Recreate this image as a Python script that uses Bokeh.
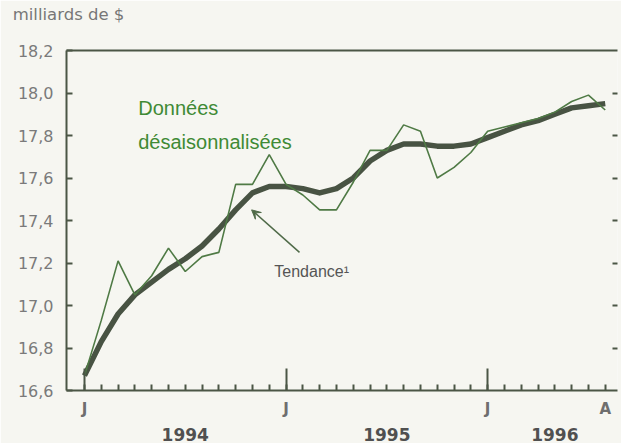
from bokeh.plotting import figure
from bokeh.models import FixedTicker, LinearAxis, Range1d, Label, Arrow, VeeHead
from bokeh.embed import file_html
from bokeh.resources import INLINE

# months since January 1994 (0 = Jan 1994 ... 31 = Aug 1996)
months = list(range(32))
raw = [16.67, 16.93, 17.21, 17.05, 17.14, 17.27, 17.16, 17.23, 17.25, 17.57,
       17.57, 17.71, 17.57, 17.52, 17.45, 17.45, 17.58, 17.73, 17.73, 17.85,
       17.82, 17.60, 17.65, 17.72, 17.82, 17.84, 17.86, 17.88, 17.91, 17.96,
       17.99, 17.92]
trend = [16.67, 16.83, 16.96, 17.05, 17.11, 17.17, 17.22, 17.28, 17.36, 17.45,
         17.53, 17.56, 17.56, 17.55, 17.53, 17.55, 17.60, 17.68, 17.73, 17.76,
         17.76, 17.75, 17.75, 17.76, 17.79, 17.82, 17.85, 17.87, 17.90, 17.93,
         17.94, 17.95]

y_ticks = [16.6, 16.8, 17.0, 17.2, 17.4, 17.6, 17.8, 18.0, 18.2]
y_labels = ["16,6", "16,8", "17,0", "17,2", "17,4", "17,6", "17,8", "18,0", "18,2"]
month_ticks = [0, 12, 24, 31]
month_labels = ["J", "J", "J", "A"]
year_ticks = [6, 18, 28]
year_labels = ["1994", "1995", "1996"]
unit_label = "milliards de $"

FONT = "Liberation Sans"
TFONT = "DejaVu Sans"
AXC = "#4b5646"
BG = "#f6f6f1"

p = figure(width=621, height=443, output_backend="svg", toolbar_location=None,
           x_range=Range1d(-1.07, 31.73), y_range=Range1d(16.6, 18.2),
           x_axis_type=None, y_axis_type=None,
           min_border_left=66, min_border_right=4, min_border_top=50, min_border_bottom=51)
p.background_fill_color = BG
p.border_fill_color = BG
p.outline_line_color = None

# top frame line carrying the unit text
ta = LinearAxis(ticker=FixedTicker(ticks=[-0.95]), major_label_overrides={-0.95: unit_label})
ta.axis_line_color = AXC
ta.axis_line_width = 2
ta.major_tick_line_color = None
ta.minor_tick_line_color = None
ta.major_tick_out = 0
ta.major_tick_in = 0
ta.major_label_text_font = TFONT
ta.major_label_text_font_size = "16.5px"
ta.major_label_text_color = "#777777"
ta.major_label_standoff = 27
p.add_layout(ta, "above")

# left axis
ya = LinearAxis(ticker=FixedTicker(ticks=y_ticks),
                major_label_overrides={t: l for t, l in zip(y_ticks, y_labels)})
ya.axis_line_color = AXC
ya.axis_line_width = 2
ya.major_tick_line_color = AXC
ya.major_tick_line_width = 2
ya.major_tick_in = 6
ya.major_tick_out = 0
ya.minor_tick_line_color = None
ya.major_label_text_font = TFONT
ya.major_label_text_font_size = "16px"
ya.major_label_text_color = "#7a7a7a"
ya.major_label_standoff = 13
p.add_layout(ya, "left")

# right ticks (no line, no labels)
ra = LinearAxis(ticker=FixedTicker(ticks=y_ticks[1:-1]))
ra.axis_line_color = None
ra.major_tick_line_color = AXC
ra.major_tick_line_width = 2
ra.major_tick_in = 5
ra.major_tick_out = 0
ra.minor_tick_line_color = None
ra.major_label_text_font_size = "1px"
ra.major_label_text_color = None
ra.major_label_standoff = 0
p.add_layout(ra, "right")

# bottom axis: line + month ticks
xa = LinearAxis(ticker=FixedTicker(ticks=[0, 12, 24], minor_ticks=months))
xa.axis_line_color = AXC
xa.axis_line_width = 2
xa.major_tick_line_color = AXC
xa.major_tick_line_width = 2
xa.major_tick_in = 22
xa.major_tick_out = 0
xa.minor_tick_line_color = AXC
xa.minor_tick_line_width = 2
xa.minor_tick_in = 6
xa.minor_tick_out = 0
xa.major_label_text_font_size = "1px"
xa.major_label_text_color = None
xa.major_label_standoff = 0
p.add_layout(xa, "below")

ma = LinearAxis(ticker=FixedTicker(ticks=month_ticks),
                major_label_overrides={t: l for t, l in zip(month_ticks, month_labels)})
ma.axis_line_color = None
ma.major_tick_line_color = None
ma.minor_tick_line_color = None
ma.major_label_text_font = TFONT
ma.major_label_text_font_size = "15px"
ma.major_label_text_font_style = "bold"
ma.major_label_text_color = "#6e6e6e"
ma.major_label_standoff = 3
p.add_layout(ma, "below")

yra = LinearAxis(ticker=FixedTicker(ticks=year_ticks),
                 major_label_overrides={t: l for t, l in zip(year_ticks, year_labels)})
yra.axis_line_color = None
yra.major_tick_line_color = None
yra.minor_tick_line_color = None
yra.major_label_text_font = TFONT
yra.major_label_text_font_size = "17px"
yra.major_label_text_font_style = "bold"
yra.major_label_text_color = "#505050"
yra.major_label_standoff = 1
p.add_layout(yra, "below")

# data
p.line(months, trend, line_color="#3e4a39", line_width=5.5, line_alpha=0.95, line_join="round")
p.line(months, raw, line_color="#4f7a45", line_width=1.6)

# annotations
p.add_layout(Label(x=3.2, y=17.93, text="Données", text_font=FONT, text_font_size="20px",
                   text_color="#3f8a35", text_baseline="middle"))
p.add_layout(Label(x=3.2, y=17.77, text="désaisonnalisées", text_font=FONT, text_font_size="20px",
                   text_color="#3f8a35", text_baseline="middle"))
p.add_layout(Label(x=11.3, y=17.16, text="Tendance¹", text_font=FONT, text_font_size="16px",
                   text_color="#555555", text_baseline="middle"))
p.add_layout(Arrow(x_start=12.8, y_start=17.25, x_end=9.95, y_end=17.45,
                   line_color="#4f6a48", line_width=1.5,
                   end=VeeHead(size=9, line_color="#4f6a48", fill_color="#4f6a48", line_width=1)))

open("out.html", "w").write(file_html(p, INLINE))
